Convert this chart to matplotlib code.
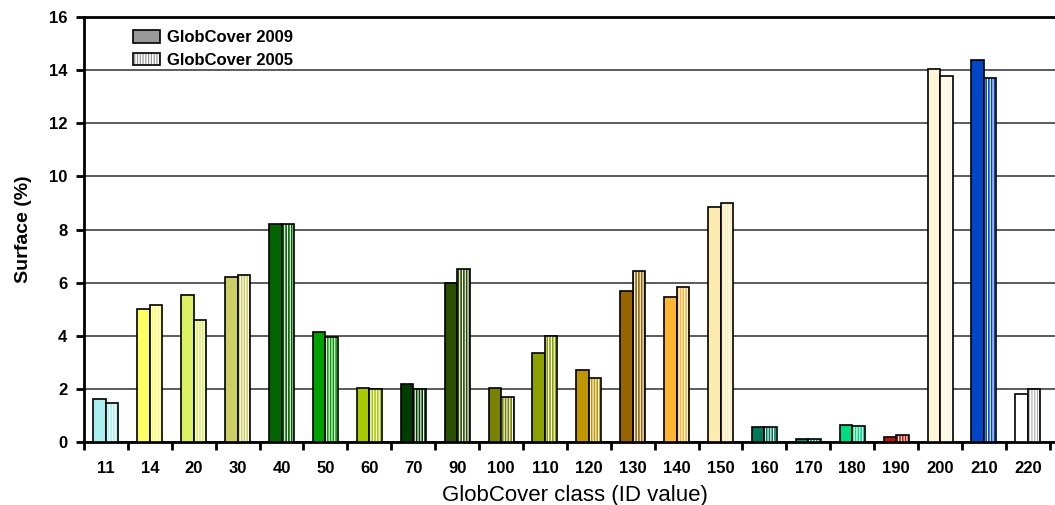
import numpy as np
import matplotlib
matplotlib.use("Agg")
import matplotlib.pyplot as plt
from matplotlib.patches import Patch

plt.rcParams['font.family'] = ['Liberation Sans', 'DejaVu Sans']
plt.rcParams['hatch.linewidth'] = 0.8

classes = ["11", "14", "20", "30", "40", "50", "60", "70", "90", "100", "110",
           "120", "130", "140", "150", "160", "170", "180", "190", "200", "210", "220"]
gc2009 = [1.6, 5.0, 5.55, 6.2, 8.2, 4.15, 2.05, 2.2, 6.0, 2.05, 3.35,
          2.7, 5.7, 5.45, 8.85, 0.55, 0.12, 0.65, 0.2, 14.05, 14.4, 1.8]
gc2005 = [1.45, 5.15, 4.6, 6.3, 8.2, 3.95, 2.0, 2.0, 6.5, 1.7, 4.0,
          2.4, 6.45, 5.85, 9.0, 0.55, 0.1, 0.6, 0.25, 13.8, 13.7, 2.0]
colors = ["#AAF0F0", "#FFFF64", "#DCF064", "#CDCD66", "#006400", "#00A000",
          "#AAC800", "#003C00", "#285000", "#788200", "#8CA000", "#BE9600",
          "#966400", "#FFB432", "#FFEBAF", "#00785A", "#009678", "#00DC82",
          "#C31400", "#FFF5D7", "#0046C8", "#FFFFFF"]

fig = plt.figure(figsize=(10.55, 5.05), dpi=100)
ax = fig.add_axes([0.0796, 0.1248, 0.93, 0.8412])

x = np.arange(len(classes))
w = 0.285

ax.bar(x - w / 2, gc2009, w, color=colors, edgecolor="black", linewidth=1.2, zorder=3)

# 2005 bars: colour fill with white vertical stripes, then black outline
for xi, v, c in zip(x, gc2005, colors):
    hc = "#AAAAAA" if c == "#FFFFFF" else "white"
    ax.bar(xi + w / 2, v, w, color=c, edgecolor=hc, hatch="||||||", linewidth=0, zorder=3)
ax.bar(x + w / 2, gc2005, w, fill=False, edgecolor="black", linewidth=1.2, zorder=4)

ax.set_ylim(0, 16)
ax.set_xlim(-0.5, 21.85)
ax.set_yticks(np.arange(0, 17, 2))
ax.yaxis.grid(True, color="#404040", linewidth=1.2, zorder=0)
ax.set_axisbelow(True)

ax.set_xticks(x)
ax.set_xticklabels(classes, fontweight="bold", fontsize=12)
ax.set_xticks(np.arange(-0.5, 22, 1), minor=True)
ax.tick_params(axis="x", which="major", length=0, pad=14)
ax.tick_params(axis="x", which="minor", length=6, width=2, direction="out")
ax.tick_params(axis="y", length=6, width=2, direction="out", labelsize=12, pad=6)
for t in ax.get_yticklabels():
    t.set_fontweight("bold")

for s in ["left", "bottom", "top"]:
    ax.spines[s].set_linewidth(2)
ax.spines["right"].set_visible(False)

ax.set_ylabel("Surface (%)", fontsize=14, fontweight="bold", labelpad=12)
ax.set_xlabel("GlobCover class (ID value)", fontsize=16, labelpad=6)

h2009 = Patch(facecolor="#999999", edgecolor="black", linewidth=1.2)
h2005 = (Patch(facecolor="white", edgecolor="#909090", hatch="||||||", linewidth=0),
         Patch(fill=False, edgecolor="black", linewidth=1.2))
leg = ax.legend([h2009, h2005], ["GlobCover 2009", "GlobCover 2005"],
                loc="upper left", bbox_to_anchor=(0.035, 1.005),
                frameon=False, prop={"weight": "bold", "size": 12},
                handlelength=1.6, handleheight=0.8, labelspacing=0.45, handletextpad=0.4)

fig.savefig("out.png", dpi=100)
